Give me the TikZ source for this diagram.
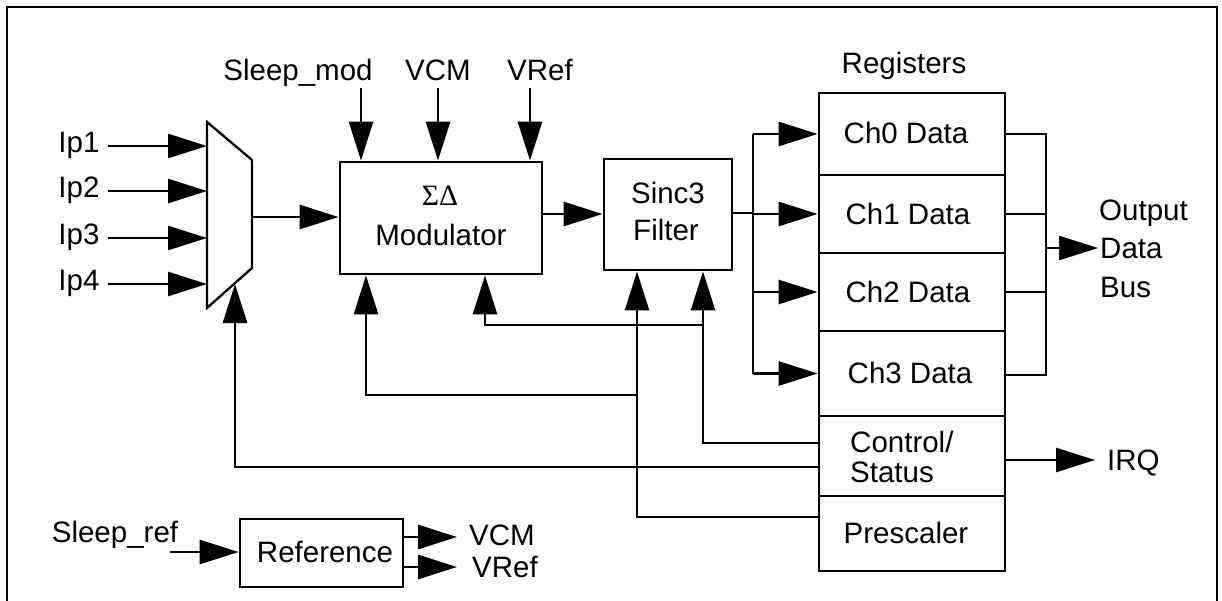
\documentclass[tikz,border=0pt]{standalone}
\usepackage{fontspec}
\setmainfont{Liberation Sans}
\newfontfamily\serifsym{Liberation Serif}
\usetikzlibrary{arrows.meta}
\tikzset{
  ln/.style={line width=2.8pt},
  arr/.style={ln,-{Triangle[length=39pt,width=24pt]}},
  blk/.style={draw,line width=2.8pt,inner sep=0pt,minimum width=#1},
  lbl/.style={inner sep=0pt,anchor=base},
  lbll/.style={inner sep=0pt,anchor=base west},
}
\begin{document}
\begin{tikzpicture}[x=1pt,y=-1pt,font=\fontsize{29.5}{34}\selectfont]
\useasboundingbox (0,0) rectangle (1222,600);
% frame
\draw[ln] (7,620) -- (7,7) -- (1217,7) -- (1217,620);

% mux
\coordinate (m1) at (207,122);
\coordinate (m2) at (252,160);
\coordinate (m3) at (252,268);
\coordinate (m4) at (207,308);
\draw[line width=2.3pt] (m1) -- (m2) -- (m3) -- (m4) -- cycle;
\coordinate (muxout) at (252,217);
\coordinate (muxbot) at (235,284);

% blocks
\node[blk=202pt,minimum height=112pt] (mod) at (441,218) {};
\node[blk=128pt,minimum height=111pt] (sinc) at (668,214.5) {};
\node[blk=186pt,minimum height=82pt] (ch0) at (912,134) {};
\node[blk=186pt,minimum height=78pt] (ch1) at (912,214) {};
\node[blk=186pt,minimum height=78pt] (ch2) at (912,292) {};
\node[blk=186pt,minimum height=85pt] (ch3) at (912,373.5) {};
\node[blk=186pt,minimum height=80pt] (ctrl) at (912,456) {};
\node[blk=186pt,minimum height=75pt] (pres) at (912,533.5) {};
\node[blk=163pt,minimum height=68pt] (ref) at (321.5,553) {};

% texts
\node[lbl] (tip1) at (79,152) {Ip1};
\node[lbl] (tip2) at (79,197) {Ip2};
\node[lbl] (tip3) at (79,244) {Ip3};
\node[lbl] (tip4) at (79,290) {Ip4};
\node[lbl] (tsm) at (298,80) {Sleep\_mod};
\node[lbl] (tvcm) at (438,80) {VCM};
\node[lbl] (tvref) at (540,80) {VRef};
\node[lbl] (tsd) at (440,205) {\serifsym ΣΔ};
\node[lbl] (tmod) at (441,245) {Modulator};
\node[lbl] (tsinc) at (668,203) {Sinc3};
\node[lbl] (tfilt) at (666,240) {Filter};
\node[lbl] (treg) at (904,73) {Registers};
\node[lbl] (tc0) at (906,143) {Ch0 Data};
\node[lbl] (tc1) at (908,224) {Ch1 Data};
\node[lbl] (tc2) at (908,302) {Ch2 Data};
\node[lbl] (tc3) at (910,383) {Ch3 Data};
\node[lbll] (tctl) at (850,452) {Control/};
\node[lbll] (tsts) at (850,482) {Status};
\node[lbl] (tpre) at (906,543) {Prescaler};
\node[lbll] (tirq) at (1107,470) {IRQ};
\node[lbll] (tout) at (1099,220) {Output};
\node[lbll] (tdata) at (1100,258) {Data};
\node[lbll] (tbus) at (1100,297) {Bus};
\node[lbl] (tsr) at (115,542) {Sleep\_ref};
\node[lbl] (tref) at (325,562) {Reference};
\node[lbll] (trv) at (469,545) {VCM};
\node[lbll] (trr) at (472,577) {VRef};

% inputs to mux
\coordinate (i1) at (108,146);
\coordinate (i2) at (108,191);
\coordinate (i3) at (108,238);
\coordinate (i4) at (108,284);
\draw[arr] (i1) -- (i1 -| m1);
\draw[arr] (i2) -- (i2 -| m1);
\draw[arr] (i3) -- (i3 -| m1);
\draw[arr] (i4) -- (i4 -| m1);
\draw[arr] (muxout) -- (muxout -| mod.west);

% top inputs
\coordinate (sm) at (361,88);
\coordinate (sv) at (438,88);
\coordinate (sr) at (530,88);
\draw[arr] (sm) -- (sm |- mod.north);
\draw[arr] (sv) -- (sv |- mod.north);
\draw[arr] (sr) -- (sr |- mod.north);

% modulator to sinc
\coordinate (mo) at (542,214);
\draw[arr] (mo) -- (mo -| sinc.west);

% sinc to registers
\coordinate (j) at (753,213);
\coordinate (jt) at (753,134);
\coordinate (jb) at (753,373.5);
\draw[ln] (j -| sinc.east) -- (j);
\draw[ln] (jt) -- (jb);
\draw[arr] (jt) -- (ch0.west);
\draw[arr] (j |- ch1.west) -- (ch1.west);
\draw[arr] (j |- ch2.west) -- (ch2.west);
\draw[arr] (jb) -- (ch3.west);

% registers to output bus
\coordinate (bt) at (1046,134);
\coordinate (bb) at (1046,375);
\coordinate (bo) at (1046,248);
\coordinate (boe) at (1098,248);
\draw[ln] (ch0.east) -- (bt) -- (bb) -- (bb -| ch3.east);
\draw[ln] (ch1.east) -- (ch1.east -| bt);
\draw[ln] (ch2.east) -- (ch2.east -| bt);
\draw[arr] (bo) -- (boe);

% IRQ
\coordinate (irq) at (1095,460);
\draw[arr] (ctrl.east |- irq) -- (irq);

% control feedback
\coordinate (c1) at (703,443);
\coordinate (c1b) at (703,325);
\coordinate (c1m) at (485,325);
\draw[arr] (ctrl.west |- c1) -- (c1) -- (c1 |- sinc.south);
\draw[arr] (c1b) -- (c1m) -- (c1m |- mod.south);
\coordinate (c2) at (235,467);
\draw[arr] (ctrl.west |- c2) -- (c2) -- (muxbot);

% prescaler feedback
\coordinate (p1) at (637,517);
\coordinate (p1b) at (637,395);
\coordinate (p1m) at (366,395);
\draw[arr] (pres.west |- p1) -- (p1) -- (p1 |- sinc.south);
\draw[arr] (p1b) -- (p1m) -- (p1m |- mod.south);

% reference
\coordinate (sri) at (170,552);
\draw[arr] (sri) -- (sri -| ref.west);
\coordinate (rv) at (457,537);
\coordinate (rr) at (457,567);
\draw[arr] (rv -| ref.east) -- (rv);
\draw[arr] (rr -| ref.east) -- (rr);
\end{tikzpicture}
\end{document}
